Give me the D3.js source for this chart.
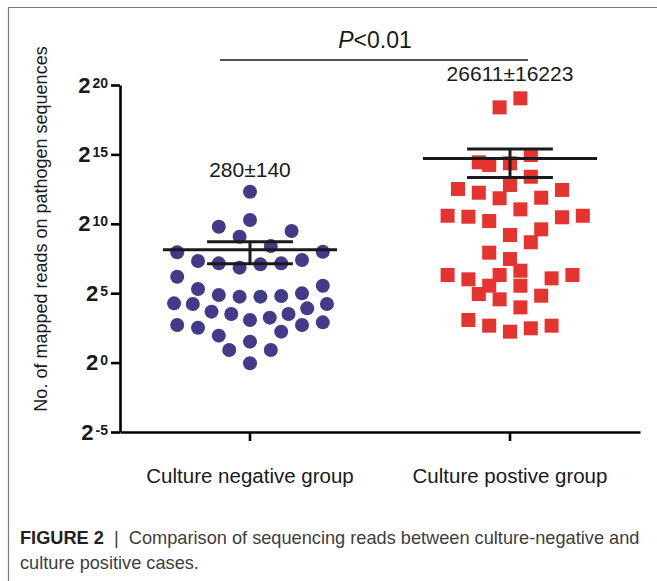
<!DOCTYPE html>
<html>
<head>
<meta charset="utf-8">
<script src="https://cdn.jsdelivr.net/npm/d3@7"></script>
<style>
  body { margin: 0; background: #fff; }
  svg { display: block; font-family: "Liberation Sans", Arial, sans-serif; }
</style>
</head>
<body>
<div id="chart"></div>
<script>
// Groups on the x axis
const categories = ["Culture negative group", "Culture postive group"];

// log2(mapped reads) per case, with the horizontal
// scatter slot of each point (slot units, 0 = group centre)
const negLog2 = [12.31, 10.27, 9.79, 9.48, 9.07, 8.40, 7.95, 7.99, 7.32, 7.15,
  6.84, 7.08, 7.15, 7.39, 6.19, 5.54, 5.30, 4.87, 4.75, 4.75,
  4.80, 4.99, 4.27, 4.22, 3.67, 3.50, 3.07, 3.24, 3.50, 3.91,
  4.22, 2.71, 2.51, 1.94, 2.23, 2.71, 2.90, 1.51, 0.91, 0.91, -0.05];
const negJitter = [0, 0, -3, 4, -1, 2, -7, 7, -5, -3,
  -1, 1, 3, 5, -7, 7, -5, -3, -1, 1,
  3, 5, -7.3, -5.5, -3.7, -1.8, 0, 1.9, 3.7, 5.5,
  7.4, -7, -5, -3, 3, 5, 7, 0, -2, 2, 0];

const posLog2 = [19.04, 18.39, 14.96, 14.43, 14.24, 14.36, 13.39, 12.80, 12.51, 12.24,
  11.84, 11.88, 12.44, 11.04, 10.58, 10.51, 10.20, 10.47, 10.58, 9.19,
  9.60, 8.67, 7.92, 7.46, 6.31, 6.00, 6.31, 6.62, 6.07, 6.31,
  5.54, 5.54, 4.94, 4.56, 4.82, 3.98, 3.07, 2.66, 2.23, 2.47, 2.66];
const posJitter = [1, -1, 2, -3, -2, 0, 2, 0, -5, -3,
  -1, 3, 5, 1, -6, -4, -2, 5, 7, 0,
  3, 2, -2, 0, -6, -4, -1, 1, 4, 6,
  -2, 1, -3, -1, 3, 1, -4, -2, 0, 2, 4];

// Mean ± SEM of mapped reads
const groupMean = [280, 26611];
const groupSEM = [140, 16223];
const meanLabels = ["280\u00b1140", "26611\u00b116223"];

// y axis ticks (powers of two)
const yExponents = [-5, 0, 5, 10, 15, 20];

const W = 657, H = 581;
const svg = d3.select("#chart").append("svg")
  .attr("width", W).attr("height", H);

// frame of the figure panel
svg.append("path")
  .attr("d", `M8.5,${H} V7.5 H${W}`)
  .attr("fill", "none").attr("stroke", "#7a7a7a").attr("stroke-width", 1.2);

const x = d3.scaleBand().domain(categories).range([120, 640]);
const y = d3.scaleLog().base(2)
  .domain([Math.pow(2, -5), Math.pow(2, 20)])
  .range([432, 85]);
const jitter = d3.scaleLinear().domain([-8, 8])
  .range([-x.bandwidth() * 0.32, x.bandwidth() * 0.32]);
const cx = c => x(c) + x.bandwidth() / 2;

// points
const negPts = negLog2.map((v, i) => ({ v: Math.pow(2, v), j: negJitter[i] }));
const posPts = posLog2.map((v, i) => ({ v: Math.pow(2, v), j: posJitter[i] }));

svg.append("g").selectAll("circle").data(negPts).join("circle")
  .attr("cx", d => cx(categories[0]) + jitter(d.j))
  .attr("cy", d => y(d.v))
  .attr("r", 7)
  .attr("fill", "#423b8a");

const sq = 14;
svg.append("g").selectAll("rect").data(posPts).join("rect")
  .attr("x", d => cx(categories[1]) + jitter(d.j) - sq / 2)
  .attr("y", d => y(d.v) - sq / 2)
  .attr("width", sq).attr("height", sq)
  .attr("fill", "#e53330");

// mean and SEM bars
const bars = svg.append("g").attr("stroke", "#1a1a1a").attr("stroke-width", 3);
categories.forEach((c, i) => {
  const m = cx(c), bw = x.bandwidth();
  const yMean = y(groupMean[i]);
  const yHi = y(groupMean[i] + groupSEM[i]);
  const yLo = y(groupMean[i] - groupSEM[i]);
  bars.append("line").attr("x1", m - bw * 0.335).attr("x2", m + bw * 0.335)
    .attr("y1", yMean).attr("y2", yMean);
  bars.append("line").attr("x1", m - bw * 0.165).attr("x2", m + bw * 0.165)
    .attr("y1", yHi).attr("y2", yHi);
  bars.append("line").attr("x1", m - bw * 0.165).attr("x2", m + bw * 0.165)
    .attr("y1", yLo).attr("y2", yLo);
  bars.append("line").attr("x1", m).attr("x2", m)
    .attr("y1", yHi).attr("y2", yLo);
});

// mean labels
svg.append("text").attr("x", cx(categories[0])).attr("y", 177)
  .attr("text-anchor", "middle").attr("font-size", 21).attr("fill", "#1a1a1a")
  .text(meanLabels[0]);
svg.append("text").attr("x", cx(categories[1])).attr("y", 81)
  .attr("text-anchor", "middle").attr("font-size", 21).attr("fill", "#1a1a1a")
  .text(meanLabels[1]);

// significance bracket
const pText = svg.append("text").attr("x", 375).attr("y", 48)
  .attr("text-anchor", "middle").attr("font-size", 23).attr("fill", "#1a1a1a");
pText.append("tspan").attr("font-style", "italic").text("P");
pText.append("tspan").text("<0.01");
svg.append("line").attr("x1", 220).attr("x2", 528).attr("y1", 60).attr("y2", 60)
  .attr("stroke", "#1a1a1a").attr("stroke-width", 1.5);

// y axis
const yAxis = svg.append("g").attr("transform", "translate(120,0)")
  .call(d3.axisLeft(y)
    .tickValues(yExponents.map(e => Math.pow(2, e)))
    .tickSize(9).tickSizeOuter(0).tickFormat(""));
yAxis.select(".domain").attr("stroke-width", 2.6);
yAxis.selectAll(".tick line").attr("stroke-width", 2.6);

yAxis.selectAll(".tick").each(function (d) {
  const t = d3.select(this).append("text")
    .attr("x", -12).attr("y", 7).attr("text-anchor", "end")
    .attr("fill", "#1a1a1a").attr("font-weight", "bold");
  t.append("tspan").attr("font-size", 22).text("2");
  t.append("tspan").attr("font-size", 14).attr("dy", -5)
    .attr("dx", 2).text(Math.round(Math.log2(d)));
});

// x axis
const xAxis = svg.append("g").attr("transform", "translate(0,432)")
  .call(d3.axisBottom(x).tickSize(9).tickSizeOuter(0).tickPadding(27));
xAxis.select(".domain").attr("stroke-width", 2.6);
xAxis.selectAll(".tick line").attr("stroke-width", 2.6);
xAxis.selectAll(".tick text").attr("font-size", 20.5).attr("fill", "#1a1a1a")
  .attr("font-family", "Liberation Sans, Arial, sans-serif");

// y axis title
svg.append("text")
  .attr("transform", "translate(47,229) rotate(-90)")
  .attr("text-anchor", "middle").attr("font-size", 18).attr("fill", "#1a1a1a")
  .text("No. of mapped reads on pathogen sequences");

// caption
const cap = svg.append("g").attr("font-size", 18.2).attr("fill", "#3d3d3d");
const l1 = cap.append("text").attr("x", 20).attr("y", 544);
l1.append("tspan").attr("font-weight", "bold").attr("fill", "#222").text("FIGURE 2");
l1.append("tspan").text(" \u00a0|\u00a0 Comparison of sequencing reads between culture-negative and");
cap.append("text").attr("x", 20).attr("y", 569).text("culture positive cases.");
</script>
</body>
</html>
